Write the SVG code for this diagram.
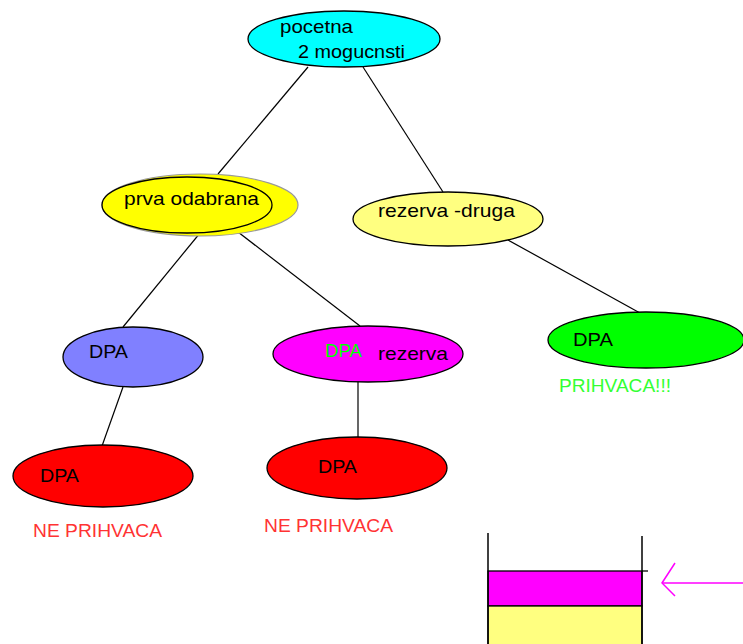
<svg xmlns="http://www.w3.org/2000/svg" width="743" height="644" viewBox="0 0 743 644">
<style>
.n{stroke:#000;stroke-width:1.3}
.t{font-family:"Liberation Sans",Arial,sans-serif;font-size:19px;fill:#000}
.c line{stroke:#000;stroke-width:1.2}
</style>
<rect width="743" height="644" fill="#fff"/>
<g class="c" id="connectors">
<line x1="308" y1="67" x2="218" y2="174"/>
<line x1="363" y1="67" x2="443" y2="192"/>
<line x1="200" y1="233" x2="123" y2="327"/>
<line x1="238" y1="232" x2="360" y2="326"/>
<line x1="508" y1="240" x2="640" y2="313"/>
<line x1="123" y1="387" x2="102" y2="446"/>
<line x1="358" y1="382" x2="358" y2="437"/>
</g>
<g id="pocetna">
<ellipse class="n" cx="344" cy="39" rx="96" ry="28" fill="#00ffff"/>
<text class="t" x="280" y="33" textLength="73" lengthAdjust="spacingAndGlyphs">pocetna</text>
<text class="t" x="298" y="58" textLength="107" lengthAdjust="spacingAndGlyphs">2 mogucnsti</text>
</g>
<g id="prva">
<ellipse cx="200" cy="205" rx="98" ry="31" fill="#ffff00" stroke="#999" stroke-width="1.2"/>
<ellipse class="n" cx="187" cy="205" rx="85" ry="28" fill="#ffff00"/>
<text class="t" x="124" y="205" textLength="135" lengthAdjust="spacingAndGlyphs">prva odabrana</text>
</g>
<g id="rezerva-druga">
<ellipse class="n" cx="448" cy="219" rx="95" ry="27" fill="#ffff80"/>
<text class="t" x="378" y="217" textLength="137" lengthAdjust="spacingAndGlyphs">rezerva -druga</text>
</g>
<g id="dpa-blue">
<ellipse class="n" cx="133" cy="357" rx="70" ry="30" fill="#8080ff"/>
<text class="t" x="89" y="358" textLength="39" lengthAdjust="spacingAndGlyphs">DPA</text>
</g>
<g id="dpa-magenta">
<ellipse class="n" cx="368" cy="354" rx="95" ry="28" fill="#ff00ff"/>
<text class="t" x="325" y="357" textLength="37" lengthAdjust="spacingAndGlyphs" style="fill:#00ff00">DPA</text>
<text class="t" x="378" y="360" textLength="70" lengthAdjust="spacingAndGlyphs">rezerva</text>
</g>
<g id="dpa-green">
<ellipse class="n" cx="646" cy="340" rx="98" ry="28" fill="#00ff00"/>
<text class="t" x="573" y="346" textLength="40" lengthAdjust="spacingAndGlyphs">DPA</text>
<text class="t" x="559" y="392" textLength="112" lengthAdjust="spacingAndGlyphs" style="fill:#33ff33">PRIHVACA!!!</text>
</g>
<g id="dpa-red-left">
<ellipse class="n" cx="103" cy="476" rx="90" ry="31" fill="#ff0000"/>
<text class="t" x="40" y="482" textLength="39" lengthAdjust="spacingAndGlyphs">DPA</text>
<text class="t" x="33" y="537" textLength="129" lengthAdjust="spacingAndGlyphs" style="fill:#ff3333">NE PRIHVACA</text>
</g>
<g id="dpa-red-mid">
<ellipse class="n" cx="357" cy="468" rx="90" ry="31" fill="#ff0000"/>
<text class="t" x="318" y="473" textLength="39" lengthAdjust="spacingAndGlyphs">DPA</text>
<text class="t" x="264" y="532" textLength="129" lengthAdjust="spacingAndGlyphs" style="fill:#ff3333">NE PRIHVACA</text>
</g>
<g id="stack">
<rect x="488" y="571" width="154" height="35" fill="#ff00ff" stroke="#000" stroke-width="1.3"/>
<rect x="488" y="606" width="154" height="40" fill="#ffff80" stroke="#000" stroke-width="1.3"/>
<line x1="488" y1="533" x2="488" y2="644" stroke="#000" stroke-width="1.5"/>
<line x1="642" y1="536" x2="642" y2="644" stroke="#000" stroke-width="1.5"/>
<line x1="642" y1="571" x2="648" y2="571" stroke="#000" stroke-width="1.3"/>
</g>
<g id="arrow" stroke="#ff00ff" stroke-width="1.5" fill="none">
<line x1="743" y1="583" x2="662" y2="583"/>
<polyline points="675,563 662,583 675,596"/>
</g>
</svg>
